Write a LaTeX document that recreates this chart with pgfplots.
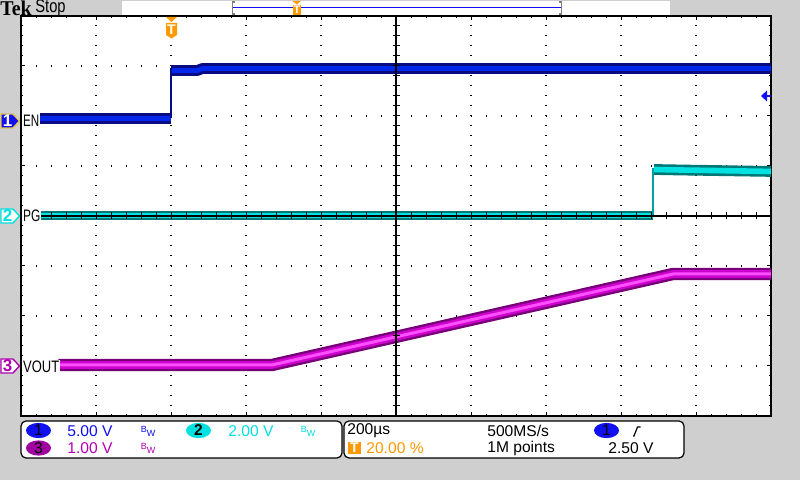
\documentclass[border=0pt]{standalone}
\usepackage{pgfplots}
\pgfplotsset{compat=1.18}
\usepackage{fontspec}
\setmainfont{Liberation Sans}
\newfontfamily\tekserif{Liberation Serif}
\definecolor{bg}{RGB}{207,207,207}
\definecolor{chA}{RGB}{16,16,240}
\definecolor{enDark}{RGB}{10,10,130}
\definecolor{enCore}{RGB}{0,40,235}
\definecolor{pgDark}{RGB}{0,120,120}
\definecolor{pgCore}{RGB}{0,225,225}
\definecolor{voDark}{RGB}{120,0,120}
\definecolor{voMid}{RGB}{205,0,205}
\definecolor{voCore}{RGB}{255,80,255}
\definecolor{tekorange}{RGB}{255,153,0}
\definecolor{cyantext}{RGB}{0,224,224}
\definecolor{cyanfill}{RGB}{0,225,225}
\definecolor{magtext}{RGB}{176,0,176}
\definecolor{magfill}{RGB}{160,0,160}
\begin{document}
\begin{tikzpicture}[font=\fontsize{7.8}{9.4}\selectfont]
\begin{scope}[x=0.5pt,y=-0.5pt]
\fill[bg] (0,0) rectangle (800,480);
% top bar
\fill[white] (122,1) rectangle (670,15);
\draw[chA, line width=0.7pt] (233,7.5) -- (561,7.5);
\draw[gray, line width=0.8pt] (235,2)--(232.5,2)--(232.5,14)--(235,14);
\draw[gray, line width=0.8pt] (559,2)--(561.5,2)--(561.5,14)--(559,14);
\node[anchor=west, inner sep=0] at (0,8.5) {\tekserif\bfseries\fontsize{10.5}{11}\selectfont\scalebox{0.95}[1]{Tek}};
\node[anchor=west, inner sep=0] at (35,8) {\fontsize{9.2}{10}\selectfont\scalebox{0.8}[1]{Stop}};
\fill[tekorange] (292.5,1) -- (301,1) -- (296.8,4.5) -- cycle;
\fill[tekorange] (293,5) rectangle (301,15);
\node[white, inner sep=0, font=\bfseries\fontsize{5.5}{6}\selectfont] at (297,10) {T};
\end{scope}

\begin{axis}[
 at={(10.5pt,-8pt)}, anchor=north west,
 width=375pt, height=200pt, scale only axis,
 xmin=0, xmax=10, ymin=-4, ymax=4,
 xtick={0,...,10}, ytick={-4,...,4},
 minor x tick num=4, minor y tick num=4,
 xticklabel=\empty, yticklabel=\empty,
 tick align=inside, major tick length=2pt, minor tick length=1.2pt,
 tick style={black, line width=0.5pt},
 grid=major,
 major x grid style={black, line width=0.6pt, dash pattern=on 0.6pt off 4.4pt},
 major y grid style={black, line width=0.6pt, dash pattern=on 0.6pt off 6.9pt},
 axis line style={black, line width=0.9pt},
 axis background/.style={fill=white},
 clip=true,
]
% EN (ch1)
\addplot[enDark, line width=5.4pt, line cap=butt, no markers] coordinates {(0.253,1.95) (2.0,1.95)};
\addplot[enCore, line width=2.4pt, line cap=butt, no markers] coordinates {(0.253,1.95) (2.0,1.95)};
\addplot[enDark, line width=5.4pt, line cap=butt, line join=round, no markers] coordinates {(2.0,2.91) (2.35,2.91) (2.42,2.95) (10.05,2.95)};
\addplot[enCore, line width=2.4pt, line cap=butt, line join=round, no markers] coordinates {(2.0,2.91) (2.35,2.91) (2.42,2.95) (10.05,2.95)};
\addplot[enDark, line width=0.7pt, no markers] coordinates {(2.0,1.95) (2.0,2.95)};
% PG (ch2)
\addplot[pgDark, line width=4.8pt, line cap=butt, no markers] coordinates {(0.253,0.01) (8.427,0.01)};
\addplot[pgCore, line width=2.4pt, line cap=butt, no markers] coordinates {(0.253,0.01) (8.427,0.01)};
\addplot[pgDark, line width=5.4pt, line cap=butt, line join=round, no markers] coordinates {(8.44,0.93) (8.8,0.92) (10.05,0.89)};
\addplot[pgCore, line width=2.8pt, line cap=butt, line join=round, no markers] coordinates {(8.44,0.93) (8.8,0.92) (10.05,0.89)};
\addplot[pgDark!70!cyan, line width=0.7pt, no markers] coordinates {(8.427,0.01) (8.427,0.95)};
% VOUT (ch3)
\addplot[voDark, line width=6.2pt, line cap=butt, line join=round, no markers] coordinates {(0.497,-2.98) (3.347,-2.98) (8.693,-1.16) (10.05,-1.16)};
\addplot[voMid, line width=3.8pt, line cap=butt, line join=round, no markers] coordinates {(0.497,-2.98) (3.347,-2.98) (8.693,-1.16) (10.05,-1.16)};
\addplot[voCore, line width=1.5pt, line cap=butt, line join=round, no markers] coordinates {(0.497,-2.98) (3.347,-2.98) (8.693,-1.16) (10.05,-1.16)};
\end{axis}

\begin{axis}[
 at={(10.5pt,-8pt)}, anchor=north west,
 width=375pt, height=200pt, scale only axis,
 xmin=-5, xmax=5, ymin=-4, ymax=4,
 axis lines=center,
 axis line style={-, black, line width=0.6pt},
 xtick={-5,...,5}, ytick={-4,...,4},
 minor x tick num=4, minor y tick num=4,
 xticklabel=\empty, yticklabel=\empty,
 tick align=center, major tick length=3.5pt, minor tick length=3.5pt,
 tick style={black, line width=0.5pt},
]
\end{axis}

\begin{scope}[x=0.5pt,y=-0.5pt]
% trigger position marker
\fill[tekorange] (166,17) -- (177,17) -- (171.5,22) -- cycle;
\fill[tekorange] (166,23) -- (177,23) -- (177,35) -- (171.5,38.5) -- (166,35) -- cycle;
\node[white, inner sep=0, font=\bfseries\fontsize{7}{7}\selectfont] at (171.5,30) {T};
% trigger level arrow
\fill[chA] (761,96) -- (767,90.5) -- (767,101.5) -- cycle;
\draw[chA, line width=0.8pt] (766,96) -- (771,96);
% channel markers
\filldraw[fill=chA, draw={rgb,255:red,225;green,195;blue,80}, line width=0.7pt] (1,114) -- (13,114) -- (19.5,121) -- (13,128) -- (1,128) -- cycle;
\node[white, inner sep=0, font=\bfseries\fontsize{8.5}{9}\selectfont] at (7.5,121) {1};
\filldraw[fill=white, draw=cyantext, line width=0.7pt] (1,209) -- (13,209) -- (19.5,216) -- (13,223) -- (1,223) -- cycle;
\node[cyantext, inner sep=0, font=\bfseries\fontsize{8.5}{9}\selectfont] at (7.5,216) {2};
\filldraw[fill=white, draw=magtext, line width=0.7pt] (1,359) -- (13,359) -- (19.5,366) -- (13,373) -- (1,373) -- cycle;
\node[magtext, inner sep=0, font=\bfseries\fontsize{8.5}{9}\selectfont] at (7.5,366) {3};
% labels
\node[anchor=west, inner sep=0.4pt, fill=white] at (22,121) {\fontsize{8.3}{9}\selectfont\scalebox{0.7}[1]{EN}};
\node[anchor=west, inner sep=0.4pt, fill=white] at (22,216) {\fontsize{8.3}{9}\selectfont\scalebox{0.72}[1]{PG}};
\node[anchor=west, inner sep=0.4pt, fill=white] at (22,366.5) {\fontsize{8.3}{9}\selectfont\scalebox{0.78}[1]{VOUT}};
% bottom info boxes
\draw[fill=white, rounded corners=2.5pt, line width=0.6pt] (21,421) rectangle (342,458);
\draw[fill=white, rounded corners=2.5pt, line width=0.6pt] (344,421) rectangle (684,458);
% box 1
\fill[chA] (38.5,430.5) ellipse [x radius=6.25pt, y radius=3.8pt];
\node[inner sep=0] at (38.5,430.5) {1};
\node[anchor=west, inner sep=0, chA] at (67,431) {5.00 V};
\node[inner sep=0, chA, font=\fontsize{4.5}{5}\selectfont] at (148,431) {B\raisebox{-2pt}{W}};
\fill[cyanfill] (198.5,430.5) ellipse [x radius=6.25pt, y radius=3.8pt];
\node[inner sep=0] at (198.5,430.5) {\bfseries 2};
\node[anchor=west, inner sep=0, cyantext] at (228,431) {2.00 V};
\node[inner sep=0, cyantext, font=\fontsize{4.5}{5}\selectfont] at (308,431) {B\raisebox{-2pt}{W}};
\fill[magfill] (38.5,448) ellipse [x radius=6.25pt, y radius=3.8pt];
\node[inner sep=0] at (38.5,448) {3};
\node[anchor=west, inner sep=0, magtext] at (67,448.5) {1.00 V};
\node[inner sep=0, magtext, font=\fontsize{4.5}{5}\selectfont] at (148,448.5) {B\raisebox{-2pt}{W}};
% box 2
\node[anchor=west, inner sep=0] at (347,431) {200µs};
\fill[tekorange] (348,442) rectangle (361,454);
\node[white, inner sep=0, font=\bfseries\fontsize{7}{7}\selectfont] at (354.5,448) {T};
\node[anchor=west, inner sep=0, tekorange] at (366,448.5) {20.00 \%};
\node[anchor=west, inner sep=0] at (487,431) {500MS/s};
\node[anchor=west, inner sep=0] at (487,448.5) {1M points};
\fill[chA] (606.5,430.5) ellipse [x radius=6.25pt, y radius=3.8pt];
\node[inner sep=0] at (606.5,430.5) {1};
\draw[line width=0.6pt] (633,436) -- (634,436) -- (637.5,427) -- (640.5,427);
\node[anchor=west, inner sep=0] at (608,448.5) {2.50 V};
\end{scope}
\pgfresetboundingbox
\path (0pt,0pt) rectangle (400pt,-240pt);
\end{tikzpicture}
\end{document}
